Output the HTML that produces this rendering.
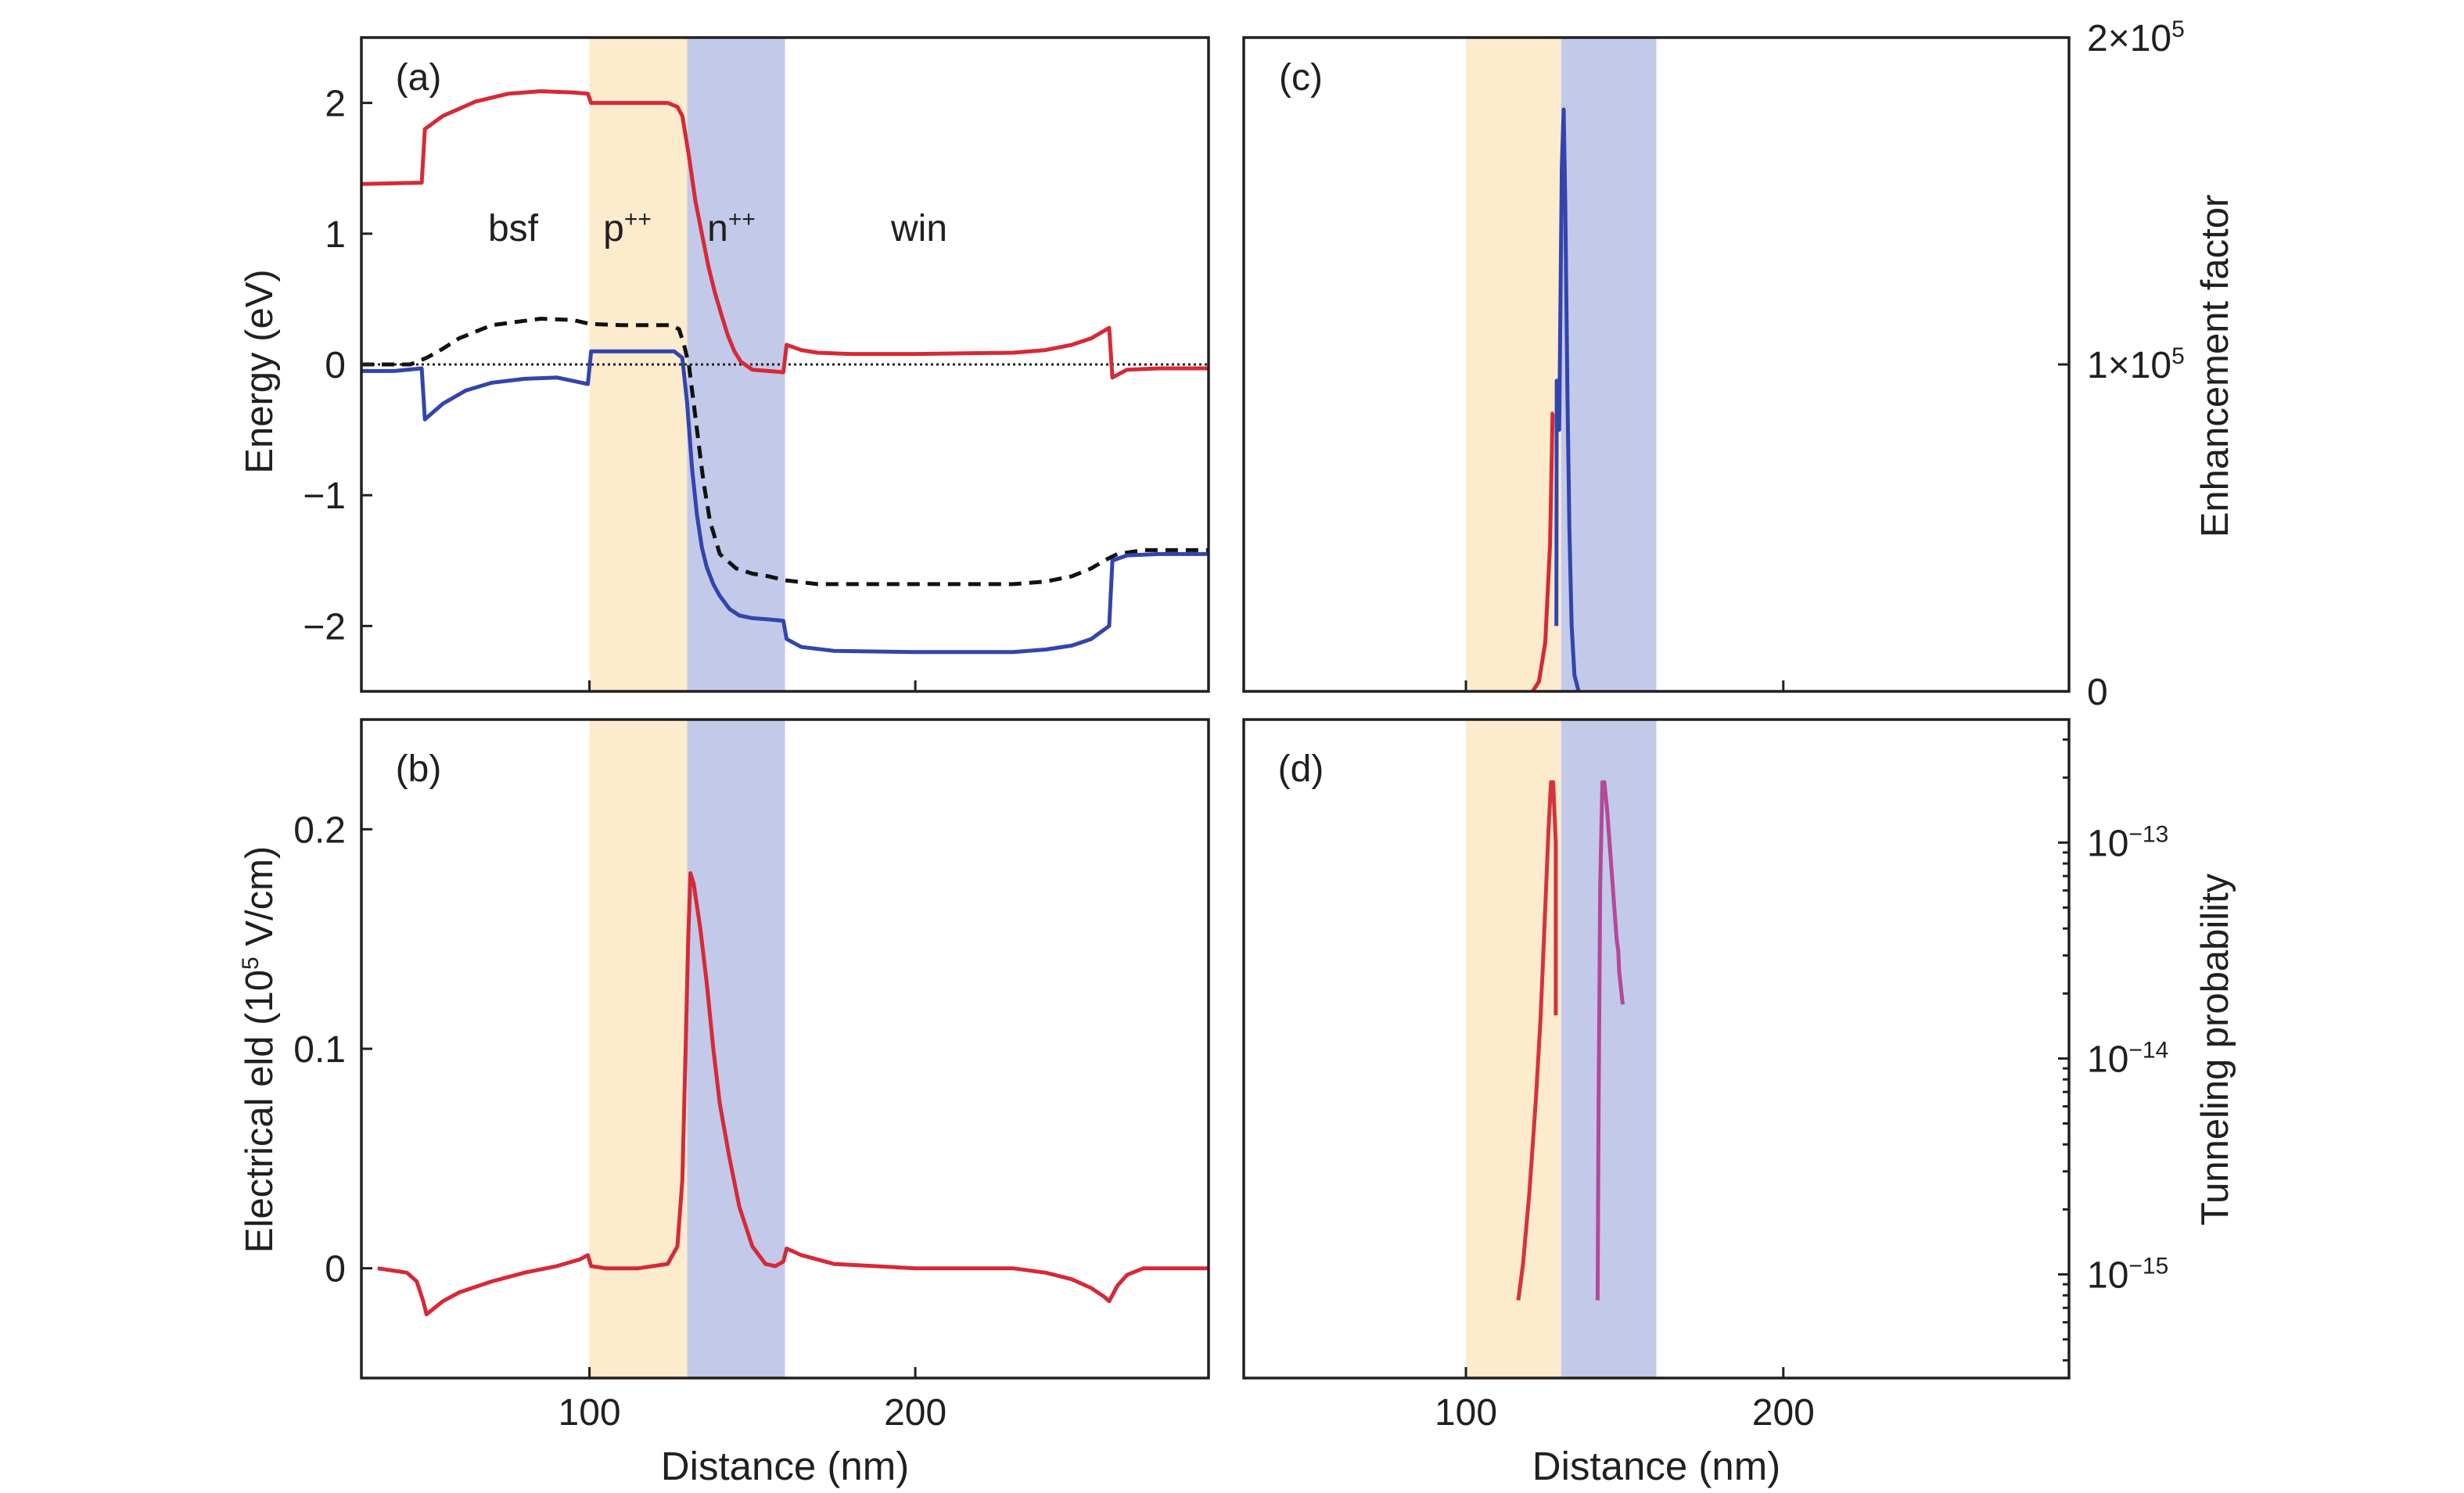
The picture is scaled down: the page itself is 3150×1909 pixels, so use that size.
<!DOCTYPE html>
<html><head><meta charset="utf-8"><style>
html,body{margin:0;padding:0;background:#fff}
svg{display:block}
text{font-family:"Liberation Sans",sans-serif;fill:#231f20}
</style></head><body>
<svg id="fig" width="3150" height="1909" viewBox="0 0 3150 1909" xmlns="http://www.w3.org/2000/svg"></svg>
<script>
// ---- data ----
const xDomain=[30,290];
const bandP=[100,130];
const bandN=[130,160];
const xTicks=[100,200];
// panel a
const ecX=[30,48.5,49.5,55,65,75,85,95,99.5,100.5,110,124,127,128.5,130.5,132.5,134.5,136.5,138.5,140.5,142.5,144.5,146.5,150,155,159.5,160.5,165,170,180,200,230,240,248,254,259.5,260.5,265,275,290];
const ecY=[1.38,1.39,1.8,1.9,2.01,2.07,2.09,2.08,2.07,2.0,2.0,2.0,1.97,1.9,1.6,1.25,1.0,0.75,0.55,0.38,0.22,0.1,0.02,-0.04,-0.05,-0.06,0.15,0.11,0.09,0.08,0.08,0.09,0.11,0.15,0.2,0.28,-0.1,-0.04,-0.03,-0.03];
const evX=[30,40,48.5,49.5,55,62,70,80,90,99.5,100.5,110,126,128.5,130,131.5,133,134.5,136,138,140,143,146,150,155,159.5,160.5,165,175,200,230,240,248,254,259.5,260.5,265,275,290];
const evY=[-0.05,-0.05,-0.03,-0.42,-0.3,-0.2,-0.14,-0.11,-0.1,-0.15,0.1,0.1,0.1,0.05,-0.3,-0.8,-1.15,-1.4,-1.55,-1.68,-1.77,-1.87,-1.92,-1.94,-1.95,-1.96,-2.1,-2.16,-2.19,-2.2,-2.2,-2.18,-2.15,-2.1,-2.0,-1.5,-1.46,-1.45,-1.45];
const efX=[30,45,50,55,60,70,85,95,100,110,125,127.5,129,130.5,132,133.5,135,137,140,145,150,155,160,170,180,200,230,240,248,254,258,262,270,290];
const efY=[0,0,0.05,0.12,0.2,0.3,0.35,0.34,0.31,0.3,0.3,0.27,0.15,0,-0.3,-0.6,-0.9,-1.2,-1.45,-1.56,-1.6,-1.62,-1.65,-1.68,-1.68,-1.68,-1.68,-1.66,-1.62,-1.56,-1.5,-1.45,-1.42,-1.42];
const aYTicks=[2,1,0,-1,-2];
const aYLabels=["2","1","0","\u22121","\u22122"];
// panel b
const fX=[35,44,47,49,50,55,60,70,80,90,97,99.5,100.5,105,115,124,127,128.5,129.5,130.3,131,132,134,136,138,140,143,146,150,154,157,159.5,160.5,165,175,200,230,240,248,254,258,259.5,262,265,270,290];
const fY=[0,-0.002,-0.006,-0.015,-0.021,-0.015,-0.011,-0.006,-0.002,0.001,0.004,0.006,0.001,0,0,0.002,0.01,0.04,0.1,0.15,0.18,0.175,0.155,0.13,0.1,0.075,0.05,0.028,0.01,0.002,0.001,0.003,0.009,0.006,0.002,0,0,-0.002,-0.005,-0.009,-0.013,-0.015,-0.008,-0.003,0,0];
const bYTicks=[0,0.1,0.2];
const bYLabels=["0","0.1","0.2"];
// panel c
const cRedX=[121,123,125,126.5,127.3,127.6];
const cRedY=[0,3000,15000,45000,85000,85000];
const cBlueX=[128.5,128.6,129.3,129.4,130.2,130.8,131.3,132,132.6,133.3,134.2,135.5];
const cBlueY=[20000,95000,95000,80000,160000,178000,150000,90000,50000,20000,5000,0];
const cYTicks=[0,100000,200000];
// panel d (log10 values)
const dRedX=[116.5,118,120,122,123.5,125,126,126.8,127.5,128.3,128.3];
const dRedY=[-15.12,-14.95,-14.62,-14.2,-13.82,-13.3,-12.95,-12.72,-12.72,-13.0,-13.8];
const dMagX=[141.5,141.8,142.3,143,143.6,144.5,146,147.5,148,148.3,149.4];
const dMagY=[-15.12,-14.2,-13.2,-12.72,-12.72,-12.85,-13.15,-13.45,-13.5,-13.6,-13.75];
const dYTicks=[-13,-14,-15];
const dYLabels=["\u221213","\u221214","\u221215"];

const NS="http://www.w3.org/2000/svg";
const svg=document.getElementById('fig');
function el(t,a,p){const e=document.createElementNS(NS,t);for(const k in a)e.setAttribute(k,a[k]);(p||svg).appendChild(e);return e;}
function txt(s,x,y,size,anchor,p){const e=el('text',{x:x,y:y,'font-size':size,'text-anchor':anchor||'middle'},p);e.textContent=s;return e;}

function panel(name,L,R,T,B,yd){
  const g=el('g',{});
  
  
  const sx=v=>L+(v-xDomain[0])/(xDomain[1]-xDomain[0])*(R-L);
  const sy=v=>B-(v-yd[0])/(yd[1]-yd[0])*(B-T);
  const r1=el('rect',{x:sx(bandP[0]),y:T,width:sx(bandP[1])-sx(bandP[0]),height:B-T,fill:'#fcebcd'},g);
  
  
  const r2=el('rect',{x:sx(bandN[0]),y:T,width:sx(bandN[1])-sx(bandN[0]),height:B-T,fill:'#c3c9e9'},g);
  
  
  return {g,sx,sy,L,R,T,B};
}
function frame(P){
  const f=el('rect',{x:P.L,y:P.T,width:P.R-P.L,height:P.B-P.T,fill:'none',stroke:'#231f20','stroke-width':3.5},P.g);
  
  
  xTicks.forEach(t=>{const x=P.sx(t);el('line',{x1:x,x2:x,y1:P.B,y2:P.B-14,stroke:'#231f20','stroke-width':3},P.g);});
}
function line(P,xs,ys,color,name,extra){
  const d=xs.map((x,i)=>(i?'L':'M')+P.sx(x).toFixed(1)+','+P.sy(ys[i]).toFixed(1)).join('');
  const a={d:d,fill:'none',stroke:color,'stroke-width':5,'stroke-linejoin':'round'};
  Object.assign(a,extra||{});
  const p=el('path',a,P.g);
  
  
  return p;
}
function xLabels(P){
  xTicks.forEach(t=>{const e=txt(String(t),P.sx(t),1822,48,'middle',P.g);
    
    });
  const e=txt('Distance (nm)',(P.L+P.R)/2,1892,51,'middle',P.g);
  
  
}

// ---- panel a ----
const A=panel('panel-a',462,1545,48,884,[-2.5,2.5]);
const zero=el('line',{x1:A.L,x2:A.R,y1:A.sy(0),y2:A.sy(0),stroke:'#231f20','stroke-width':3,'stroke-dasharray':'3,4'},A.g);


line(A,efX,efY,'#111','fermi-level-dashed',{'stroke-dasharray':'16,10'});
line(A,ecX,ecY,'#d52a36','conduction-band');
line(A,evX,evY,'#3244ad','valence-band');
frame(A);
aYTicks.forEach((t,i)=>{const y=A.sy(t);el('line',{x1:A.L,x2:A.L+14,y1:y,y2:y,stroke:'#231f20','stroke-width':3},A.g);
  const e=txt(aYLabels[i],442,y+17,48,'end',A.g);
  
  });
[['(a)',535,115],['bsf',656,308],['win',1175,308]].forEach(a=>{const e=txt(a[0],a[1],a[2],48,'middle',A.g);
  
  });
{const e=el('text',{x:802,y:308,'font-size':48,'text-anchor':'middle'},A.g);e.innerHTML='p<tspan font-size="30" dy="-18">++</tspan>';
 
 
 const f=el('text',{x:935,y:308,'font-size':48,'text-anchor':'middle'},A.g);f.innerHTML='n<tspan font-size="30" dy="-18">++</tspan>';
 
 }
{const e=txt('Energy (eV)',0,0,49,'middle',A.g);e.setAttribute('transform','translate(348,475) rotate(-90)');
 
 }

// ---- panel b ----
const Bp=panel('panel-b',462,1545,920,1762,[-0.05,0.25]);
line(Bp,fX,fY,'#d52a36','electric-field-curve');
frame(Bp);
bYTicks.forEach((t,i)=>{const y=Bp.sy(t);el('line',{x1:Bp.L,x2:Bp.L+14,y1:y,y2:y,stroke:'#231f20','stroke-width':3},Bp.g);
  const e=txt(bYLabels[i],442,y+17,48,'end',Bp.g);
  
  });
{const e=txt('(b)',535,999,48,'middle',Bp.g);}
{const e=el('text',{'font-size':49,'text-anchor':'middle',transform:'translate(348,1342) rotate(-90)'},Bp.g);
 e.innerHTML='Electrical eld (10<tspan font-size="30" dy="-18">5</tspan><tspan dy="18"> V/cm)</tspan>';
 
 }
xLabels(Bp);

// ---- panel c ----
const C=panel('panel-c',1590,2645,48,884,[0,200000]);
line(C,cRedX,cRedY,'#d52a36','enhancement-red-curve');
line(C,cBlueX,cBlueY,'#3244ad','enhancement-blue-curve');
frame(C);
cYTicks.forEach((t,i)=>{const y=C.sy(t);el('line',{x1:C.R,x2:C.R-14,y1:y,y2:y,stroke:'#231f20','stroke-width':3},C.g);
  const e=el('text',{x:2668,y:y+17,'font-size':48,'text-anchor':'start'},C.g);
  if(t===0)e.textContent='0';else e.innerHTML=(t/100000)+'\u00d710<tspan font-size="30" dy="-18">5</tspan>';
  
  });
{const e=txt('(c)',1663,115,48,'middle',C.g);}
{const e=txt('Enhancement factor',0,0,49,'middle',C.g);e.setAttribute('transform','translate(2848,468) rotate(-90)');
 
 }

// ---- panel d ----
const D=panel('panel-d',1590,2645,920,1762,[-15.48,-12.43]);
line(D,dRedX,dRedY,'#d6333b','tunneling-red-curve');
line(D,dMagX,dMagY,'#b4489a','tunneling-magenta-curve');
frame(D);
for(let dec=-16;dec<=-13;dec++){for(let m=1;m<=9;m++){const v=dec+Math.log10(m);if(v<-15.48||v>-12.43)continue;
  const y=D.sy(v);el('line',{x1:D.R,x2:D.R-(m===1?14:8),y1:y,y2:y,stroke:'#231f20','stroke-width':3},D.g);}}
dYTicks.forEach((t,i)=>{const y=D.sy(t);
  const e=el('text',{x:2668,y:y+17,'font-size':48,'text-anchor':'start'},D.g);
  e.innerHTML='10<tspan font-size="30" dy="-18">'+dYLabels[i]+'</tspan>';
  
  });
{const e=txt('(d)',1663,999,48,'middle',D.g);}
{const e=txt('Tunneling probability',0,0,49,'middle',D.g);e.setAttribute('transform','translate(2848,1342) rotate(-90)');
 
 }
xLabels(D);
</script>
</body></html>
